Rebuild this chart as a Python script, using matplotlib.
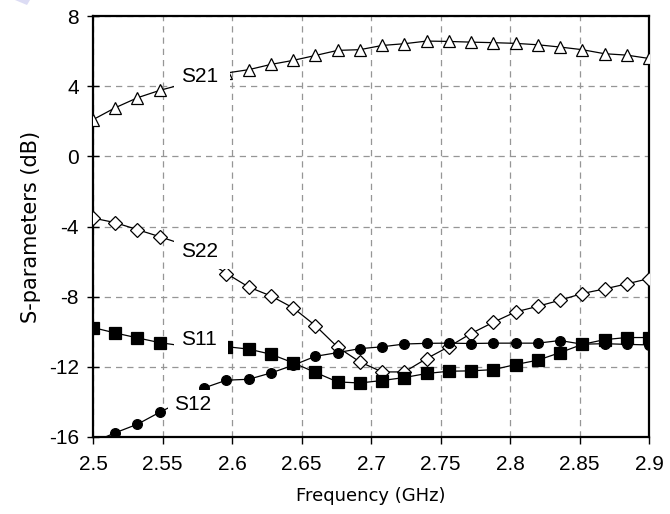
import matplotlib
matplotlib.use("Agg")
import matplotlib.pyplot as plt
from matplotlib.patches import Polygon
from matplotlib.path import Path

plt.rcParams["axes.unicode_minus"] = False

# Measured S-parameters of the amplifier, 2.5-2.9 GHz sweep
freq_ghz = [2.500, 2.516, 2.532, 2.548, 2.564, 2.580, 2.596, 2.612, 2.628,
            2.644, 2.660, 2.676, 2.692, 2.708, 2.724, 2.740, 2.756, 2.772,
            2.788, 2.804, 2.820, 2.836, 2.852, 2.868, 2.884, 2.900]

s21_db = [2.09, 2.77, 3.34, 3.76, 4.10, 4.40, 4.75, 4.94, 5.24, 5.47, 5.75,
          6.04, 6.08, 6.32, 6.42, 6.57, 6.55, 6.51, 6.48, 6.44, 6.36, 6.23,
          6.08, 5.85, 5.77, 5.58]

s22_db = [-3.52, -3.78, -4.18, -4.58, -5.00, -5.85, -6.68, -7.45, -7.96,
          -8.64, -9.65, -10.88, -11.72, -12.29, -12.29, -11.53, -10.85,
          -10.10, -9.46, -8.87, -8.55, -8.20, -7.82, -7.56, -7.27, -6.97]

s11_db = [-9.76, -10.07, -10.35, -10.62, -10.80, -10.85, -10.85, -10.99,
          -11.28, -11.77, -12.32, -12.86, -12.92, -12.78, -12.61, -12.38,
          -12.25, -12.23, -12.16, -11.87, -11.62, -11.19, -10.72, -10.45,
          -10.33, -10.33]

s12_db = [-16.30, -15.76, -15.27, -14.59, -13.95, -13.20, -12.76, -12.71,
          -12.35, -11.91, -11.40, -11.19, -10.96, -10.86, -10.70, -10.66,
          -10.65, -10.67, -10.65, -10.65, -10.65, -10.50, -10.71, -10.68,
          -10.72, -10.75]

x_ticks = [2.5, 2.55, 2.6, 2.65, 2.7, 2.75, 2.8, 2.85, 2.9]
x_tick_labels = ["2.5", "2.55", "2.6", "2.65", "2.7", "2.75", "2.8", "2.85", "2.9"]
y_ticks = [-16, -12, -8, -4, 0, 4, 8]

# series name, label anchor (GHz, dB)
labels = [("S21", 2.563, 4.55),
          ("S22", 2.563, -5.40),
          ("S11", 2.563, -10.45),
          ("S12", 2.5585, -14.12)]


def label_box(x0, y0, width, height, mutation_size):
    """White backing box with separate left/right/top/bottom margins."""
    left, right = 0.32 * mutation_size, 0.57 * mutation_size
    top, bottom = 0.22 * mutation_size, 0.42 * mutation_size
    xa, xb = x0 - left, x0 + width + right
    ya, yb = y0 - bottom, y0 + height + top
    return Path([(xa, ya), (xb, ya), (xb, yb), (xa, yb), (xa, ya)],
                closed=True)


W, H = 670, 514
fig = plt.figure(figsize=(W / 100, H / 100), dpi=100)
ax = fig.add_axes([93 / W, 1 - 437 / H, (649 - 93) / W, (437 - 16) / H])

line_kw = dict(color="black", lw=0.9, markeredgewidth=0.9, zorder=3)
ax.plot(freq_ghz, s21_db, marker="^", ms=9, mfc="white", mec="black", **line_kw)
ax.plot(freq_ghz, s22_db, marker="D", ms=6.8, mfc="white", mec="black", **line_kw)
ax.plot(freq_ghz, s11_db, marker="s", ms=8, mfc="black", mec="black", **line_kw)
ax.plot(freq_ghz, s12_db, marker="o", ms=7, mfc="black", mec="black", **line_kw)

for name, fx, fy in labels:
    ax.text(fx, fy, name, ha="left", va="center", fontsize=15,
            family="Liberation Sans", zorder=5,
            bbox=dict(boxstyle=label_box, facecolor="white",
                      edgecolor="none"))

ax.set_xlim(2.5, 2.9)
ax.set_ylim(-16, 8)
ax.set_xticks(x_ticks)
ax.set_xticklabels(x_tick_labels)
ax.set_yticks(y_ticks)

ax.grid(True, color="#969696", linestyle=(0, (5, 4)), linewidth=0.9)
ax.set_axisbelow(True)
for sp in ax.spines.values():
    sp.set_linewidth(1.6)
    sp.set_color("black")

ax.tick_params(axis="x", direction="out", length=5, width=1, pad=8,
               labelsize=15)
ax.tick_params(axis="y", direction="inout", length=8, width=1, pad=6,
               labelsize=15)
for lab in ax.get_xticklabels() + ax.get_yticklabels():
    lab.set_family("Liberation Sans")

ax.set_xlabel("Frequency (GHz)", fontsize=13, family="DejaVu Sans",
              labelpad=9)
ax.set_ylabel("S-parameters (dB)", fontsize=15, family="DejaVu Sans",
              labelpad=6)

# faint corner mark
fig.patches.append(Polygon([[15 / W, 1.0], [30 / W, 1.0], [27 / W, 1 - 5 / H]],
                           closed=True, transform=fig.transFigure,
                           facecolor="#dcdcf4", edgecolor="none"))

fig.savefig("out.png", dpi=100)
